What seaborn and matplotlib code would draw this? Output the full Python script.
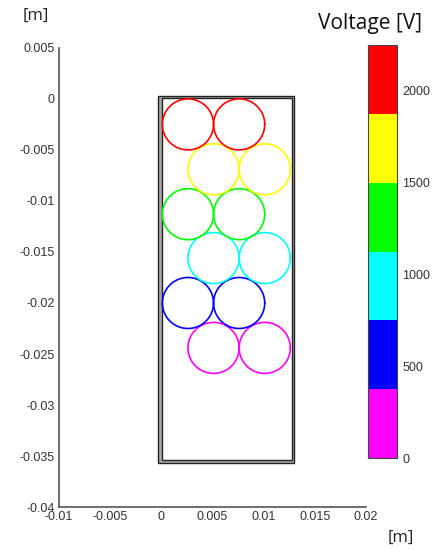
import numpy as np
import pandas as pd
import matplotlib
matplotlib.use("Agg")
import matplotlib.pyplot as plt
from matplotlib.colors import ListedColormap, BoundaryNorm
from matplotlib.cm import ScalarMappable
from matplotlib.patches import Rectangle
import seaborn as sns

# ---- data ----
center_x = [0.0026, 0.0076, 0.0051, 0.0101, 0.0026, 0.0076,
            0.0051, 0.0101, 0.0026, 0.0076, 0.0051, 0.0101]
center_y = [-0.0025, -0.0025, -0.0069, -0.0069, -0.0113, -0.0113,
            -0.0156, -0.0156, -0.0200, -0.0200, -0.0244, -0.0244]
voltage = [2250, 2250, 1800, 1800, 1350, 1350, 900, 900, 450, 450, 0, 0]
radius = 0.0025

box_outer = [-0.0003, -0.0357, 0.0133, 0.0360]   # x0, y0, w, h
box_inner = [0.0001, -0.0354, 0.0127, 0.0355]

cbar_colors = ["#ff00ff", "#0000ff", "#00ffff", "#00ff00", "#ffff00", "#ff0000"]
cbar_bounds = [0, 375, 750, 1125, 1500, 1875, 2250]
cbar_ticks = [0, 500, 1000, 1500, 2000]

xticks = [-0.01, -0.005, 0, 0.005, 0.01, 0.015, 0.02]
xtick_labels = ["-0.01", "-0.005", "0", "0.005", "0.01", "0.015", "0.02"]
yticks = [0.005, 0, -0.005, -0.01, -0.015, -0.02, -0.025, -0.03, -0.035, -0.04]
ytick_labels = ["0.005", "0", "-0.005", "-0.01", "-0.015", "-0.02", "-0.025", "-0.03", "-0.035", "-0.04"]

# ---- build circle outlines ----
t = np.linspace(0, 2 * np.pi, 181)
rows = []
for i, (cx, cy, v) in enumerate(zip(center_x, center_y, voltage)):
    for k, a in enumerate(t):
        rows.append({"x": cx + radius * np.cos(a), "y": cy + radius * np.sin(a),
                     "circle": i, "order": k, "V": v})
df = pd.DataFrame(rows)

cmap = ListedColormap(cbar_colors)
norm = BoundaryNorm(cbar_bounds, cmap.N)
palette = {v: cmap(norm(v)) if v < cbar_bounds[-1] else cbar_colors[-1] for v in set(voltage)}

sns.set_style("white")
plt.rcParams["font.family"] = ["Liberation Sans", "DejaVu Sans"]

fig = plt.figure(figsize=(4.4, 5.5), dpi=100)
ax = fig.add_axes([0.134, 0.078, 0.698, 0.835])

ax.add_patch(Rectangle((box_outer[0], box_outer[1]), box_outer[2], box_outer[3],
                       facecolor="#a8a8a8", edgecolor="#222222", lw=1.0, zorder=1))
ax.add_patch(Rectangle((box_inner[0], box_inner[1]), box_inner[2], box_inner[3],
                       facecolor="white", edgecolor="#222222", lw=1.0, zorder=1))

sns.lineplot(data=df, x="x", y="y", units="circle", estimator=None, sort=False,
             hue="V", palette=palette, legend=False, lw=1.2, ax=ax, zorder=3)

ax.set_xlim(-0.01, 0.02)
ax.set_ylim(-0.04, 0.005)
ax.set_xticks(xticks)
ax.set_xticklabels(xtick_labels)
ax.set_yticks(yticks)
ax.set_yticklabels(ytick_labels)
ax.set_xlabel("")
ax.set_ylabel("")
for s in ["top", "right"]:
    ax.spines[s].set_visible(False)
for s in ["left", "bottom"]:
    ax.spines[s].set_color("#555555")
    ax.spines[s].set_linewidth(1.2)
ax.tick_params(direction="in", length=4, width=1, color="#555555",
               labelsize=9, labelcolor="#333333", pad=3)

cax = fig.add_axes([0.836, 0.167, 0.066, 0.751])
sm = ScalarMappable(norm=norm, cmap=cmap)
cb = fig.colorbar(sm, cax=cax, boundaries=cbar_bounds, ticks=cbar_ticks, spacing="proportional")
cb.minorticks_off()
cb.outline.set_edgecolor("#444444")
cb.outline.set_linewidth(0.8)
cax.tick_params(which="both", direction="in", length=3, width=0.8, color="#444444",
                labelsize=9, labelcolor="#333333", pad=4)

fig.text(0.842, 0.958, "Voltage [V]", ha="center", va="center", fontsize=15,
         family=["Open Sans", "DejaVu Sans"], color="#111111")
fig.text(0.082, 0.972, "[m]", ha="center", va="center", fontsize=12,
         family=["Open Sans", "DejaVu Sans"], color="#222222")
fig.text(0.91, 0.022, "[m]", ha="center", va="center", fontsize=12,
         family=["Open Sans", "DejaVu Sans"], color="#222222")

fig.savefig("out.png", dpi=100, facecolor="white")
